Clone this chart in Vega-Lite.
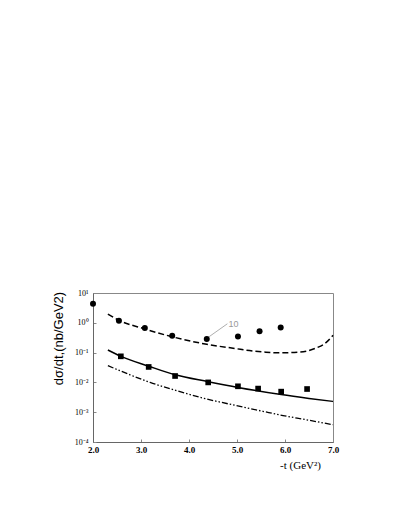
{
  "$schema": "https://vega.github.io/schema/vega-lite/v6.json",
  "autosize": "none",
  "width": 240,
  "height": 149,
  "padding": {"left": 93, "top": 293, "right": 72, "bottom": 82},
  "background": "white",
  "config": {
    "view": {"stroke": "#888", "strokeWidth": 1},
    "axis": {
      "grid": false,
      "domainColor": "#666",
      "tickColor": "#888",
      "labelFont": "Liberation Serif",
      "labelColor": "#000",
      "titleColor": "#000"
    }
  },
  "datasets": {
    "circles": [
      {"t": 2.0, "v": 4.4},
      {"t": 2.54, "v": 1.18},
      {"t": 3.08, "v": 0.67},
      {"t": 3.65, "v": 0.37},
      {"t": 4.37, "v": 0.286},
      {"t": 5.02, "v": 0.35},
      {"t": 5.47, "v": 0.52},
      {"t": 5.91, "v": 0.70}
    ],
    "squares": [
      {"t": 2.58, "v": 0.075},
      {"t": 3.16, "v": 0.033},
      {"t": 3.71, "v": 0.0164},
      {"t": 4.40, "v": 0.010},
      {"t": 5.02, "v": 0.0074},
      {"t": 5.44, "v": 0.0062},
      {"t": 5.92, "v": 0.0049},
      {"t": 6.46, "v": 0.006}
    ],
    "curves": [
      {"curve": "dashed", "t": 2.31, "v": 1.97},
      {"curve": "dashed", "t": 2.54, "v": 1.22},
      {"curve": "dashed", "t": 3.08, "v": 0.62},
      {"curve": "dashed", "t": 3.65, "v": 0.34},
      {"curve": "dashed", "t": 4.37, "v": 0.19},
      {"curve": "dashed", "t": 4.99, "v": 0.135},
      {"curve": "dashed", "t": 5.26, "v": 0.117},
      {"curve": "dashed", "t": 5.6, "v": 0.103},
      {"curve": "dashed", "t": 5.89, "v": 0.098},
      {"curve": "dashed", "t": 6.31, "v": 0.104},
      {"curve": "dashed", "t": 6.65, "v": 0.143},
      {"curve": "dashed", "t": 6.86, "v": 0.22},
      {"curve": "dashed", "t": 7.0, "v": 0.38},
      {"curve": "solid", "t": 2.31, "v": 0.122},
      {"curve": "solid", "t": 2.58, "v": 0.075},
      {"curve": "solid", "t": 3.16, "v": 0.035},
      {"curve": "solid", "t": 3.71, "v": 0.018},
      {"curve": "solid", "t": 4.40, "v": 0.0106},
      {"curve": "solid", "t": 5.02, "v": 0.0068},
      {"curve": "solid", "t": 5.92, "v": 0.0039},
      {"curve": "solid", "t": 6.5, "v": 0.0029},
      {"curve": "solid", "t": 7.0, "v": 0.0023},
      {"curve": "dashdot", "t": 2.31, "v": 0.0365},
      {"curve": "dashdot", "t": 2.77, "v": 0.018},
      {"curve": "dashdot", "t": 3.19, "v": 0.010},
      {"curve": "dashdot", "t": 3.74, "v": 0.0053},
      {"curve": "dashdot", "t": 4.36, "v": 0.0028},
      {"curve": "dashdot", "t": 4.99, "v": 0.00166},
      {"curve": "dashdot", "t": 5.54, "v": 0.00107},
      {"curve": "dashdot", "t": 5.96, "v": 0.00077},
      {"curve": "dashdot", "t": 6.44, "v": 0.00056},
      {"curve": "dashdot", "t": 7.0, "v": 0.00038}
    ],
    "note": [
      {"t1": 4.37, "v1": 0.3, "t2": 4.8, "v2": 0.93, "label": "10"}
    ]
  },
  "layer": [
    {
      "data": {"name": "curves"},
      "transform": [{"filter": "datum.curve === 'dashed'"}],
      "mark": {"type": "line", "color": "#000", "strokeWidth": 1.5, "strokeDash": [6, 3], "interpolate": "monotone"},
      "encoding": {
        "x": {
          "field": "t", "type": "quantitative",
          "scale": {"domain": [2, 7], "nice": false},
          "axis": {
            "values": [2, 3, 4, 5, 6, 7],
            "format": ".1f",
            "labelOverlap": false,
            "labelFlush": false,
            "tickSize": -3,
            "labelPadding": 6,
            "labelFontSize": 9,
            "labelFontWeight": "bold",
            "title": "-t (GeV²)",
            "titleFont": "Liberation Serif",
            "titleFontSize": 11,
            "titleFontWeight": "normal",
            "titleX": 207,
            "titleY": 17,
            "titleAlign": "center"
          }
        },
        "y": {
          "field": "v", "type": "quantitative",
          "scale": {"type": "log", "domain": [0.0001, 10], "nice": false},
          "axis": {
            "values": [0.0001, 0.001, 0.01, 0.1, 1, 10],
            "labelExpr": "{'0.0001': '10⁻⁴', '0.001': '10⁻³', '0.01': '10⁻²', '0.1': '10⁻¹', '1': '10⁰', '10': '10¹'}[datum.value + '']",
            "labelOverlap": false,
            "labelFlush": false,
            "tickSize": -3,
            "labelPadding": 8,
            "labelFontSize": 8,
            "title": "dσ/dt,(nb/GeV2)",
            "titleFont": "Liberation Sans",
            "titleFontSize": 13,
            "titleFontWeight": "normal",
            "titleX": -35,
            "titleY": 45,
            "titleAngle": -90,
            "titleAlign": "center",
            "titleBaseline": "middle"
          }
        }
      }
    },
    {
      "data": {"name": "curves"},
      "transform": [{"filter": "datum.curve === 'solid'"}],
      "mark": {"type": "line", "color": "#000", "strokeWidth": 1.5, "interpolate": "monotone"},
      "encoding": {
        "x": {"field": "t", "type": "quantitative"},
        "y": {"field": "v", "type": "quantitative"}
      }
    },
    {
      "data": {"name": "curves"},
      "transform": [{"filter": "datum.curve === 'dashdot'"}],
      "mark": {"type": "line", "color": "#000", "strokeWidth": 1.3, "strokeDash": [6, 2, 1.5, 2, 1.5, 2], "interpolate": "monotone"},
      "encoding": {
        "x": {"field": "t", "type": "quantitative"},
        "y": {"field": "v", "type": "quantitative"}
      }
    },
    {
      "data": {"name": "note"},
      "mark": {"type": "rule", "color": "#999", "strokeWidth": 0.8},
      "encoding": {
        "x": {"field": "t1", "type": "quantitative"},
        "y": {"field": "v1", "type": "quantitative"},
        "x2": {"field": "t2"},
        "y2": {"field": "v2"}
      }
    },
    {
      "data": {"name": "note"},
      "mark": {"type": "text", "color": "#999", "fontSize": 9, "font": "Liberation Sans", "align": "left", "baseline": "middle", "dx": 1},
      "encoding": {
        "x": {"field": "t2", "type": "quantitative"},
        "y": {"field": "v2", "type": "quantitative"},
        "text": {"field": "label"}
      }
    },
    {
      "data": {"name": "circles"},
      "mark": {"type": "point", "shape": "circle", "filled": true, "color": "#000", "opacity": 1, "size": 36},
      "encoding": {
        "x": {"field": "t", "type": "quantitative"},
        "y": {"field": "v", "type": "quantitative"}
      }
    },
    {
      "data": {"name": "squares"},
      "mark": {"type": "point", "shape": "square", "filled": true, "color": "#000", "opacity": 1, "size": 32},
      "encoding": {
        "x": {"field": "t", "type": "quantitative"},
        "y": {"field": "v", "type": "quantitative"}
      }
    }
  ]
}
